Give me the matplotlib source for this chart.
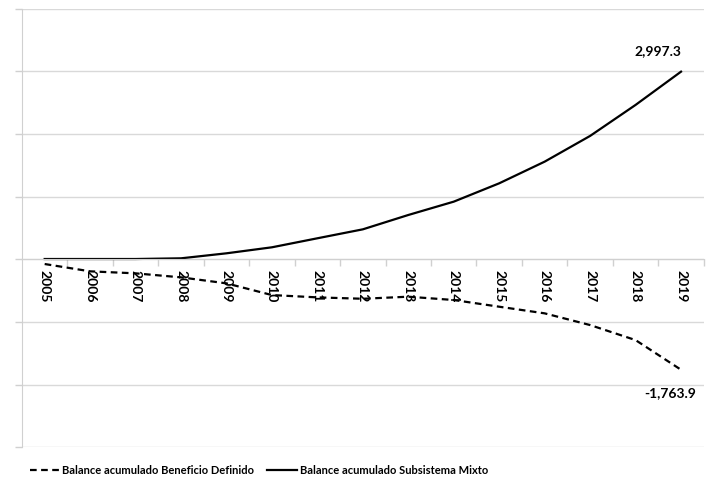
import matplotlib
matplotlib.use("Agg")
from matplotlib import pyplot as plt
from matplotlib.ticker import FixedLocator

plt.rcParams["font.family"] = ["Lato", "DejaVu Sans"]

years = ["2005", "2006", "2007", "2008", "2009", "2010", "2011", "2012",
         "2013", "2014", "2015", "2016", "2017", "2018", "2019"]
beneficio_definido = [-75, -192, -224, -288, -384, -571, -608, -630,
                      -597, -650, -757, -863, -1050, -1290, -1763.9]
subsistema_mixto = [5, 5, 5, 16, 96, 192, 336, 479,
                    708, 921, 1214, 1560, 1971, 2466, 2997.3]
y_gridlines = [-3000, -2000, -1000, 0, 1000, 2000, 3000, 4000]


def plot_chart(filename):
    fig = plt.figure(figsize=(7.08, 4.93), dpi=100)
    ax = fig.add_axes([0.031, 0.093, 0.963, 0.889])
    x = list(range(len(years)))

    bd_line, = ax.plot(x, beneficio_definido, color="black", linewidth=1.6,
                       linestyle=(0, (3, 2)), label="Balance acumulado Beneficio Definido")
    mx_line, = ax.plot(x, subsistema_mixto, color="black", linewidth=1.6,
                       label="Balance acumulado Subsistema Mixto")

    ax.set_xlim(-0.5, len(years) - 0.5)
    ax.set_ylim(-3000, 4000)

    # horizontal gridlines, no y labels
    ax.set_yticks(y_gridlines)
    ax.set_yticklabels([])
    ax.tick_params(axis="y", length=5, color="#d0d0d0", width=1)
    ax.grid(axis="y", color="#d9d9d9", linewidth=1)
    ax.set_axisbelow(True)

    # category axis sitting on zero
    ax.spines["bottom"].set_position(("data", 0))
    ax.spines["bottom"].set_color("#d0d0d0")
    ax.spines["left"].set_color("#d0d0d0")
    ax.spines["top"].set_visible(False)
    ax.spines["right"].set_visible(False)
    ax.set_xticks(x)
    ax.set_xticklabels(years, rotation=270, fontweight="bold", fontsize=10)
    ax.tick_params(axis="x", which="major", length=0, pad=8)
    ax.xaxis.set_minor_locator(FixedLocator([i + 0.5 for i in x]))
    ax.tick_params(axis="x", which="minor", length=5, color="#d0d0d0", width=1)

    ax.annotate("2,997.3", (x[-1], subsistema_mixto[-1]), textcoords="offset pixels",
                xytext=(-23, 21), ha="center", va="center", fontweight="bold", fontsize=10)
    ax.annotate("-1,763.9", (x[-1], beneficio_definido[-1]), textcoords="offset pixels",
                xytext=(-11, -23), ha="center", va="center", fontweight="bold", fontsize=10)

    fig.legend(handles=[bd_line, mx_line], loc="center left", bbox_to_anchor=(0.028, 0.045),
               ncol=2, frameon=False, handlelength=2.7, handletextpad=0.2,
               columnspacing=1.2, prop={"weight": "bold", "size": 8})

    plt.savefig(filename)
    plt.clf()


def main():
    plot_chart("out.png")


if __name__ == "__main__":
    main()
